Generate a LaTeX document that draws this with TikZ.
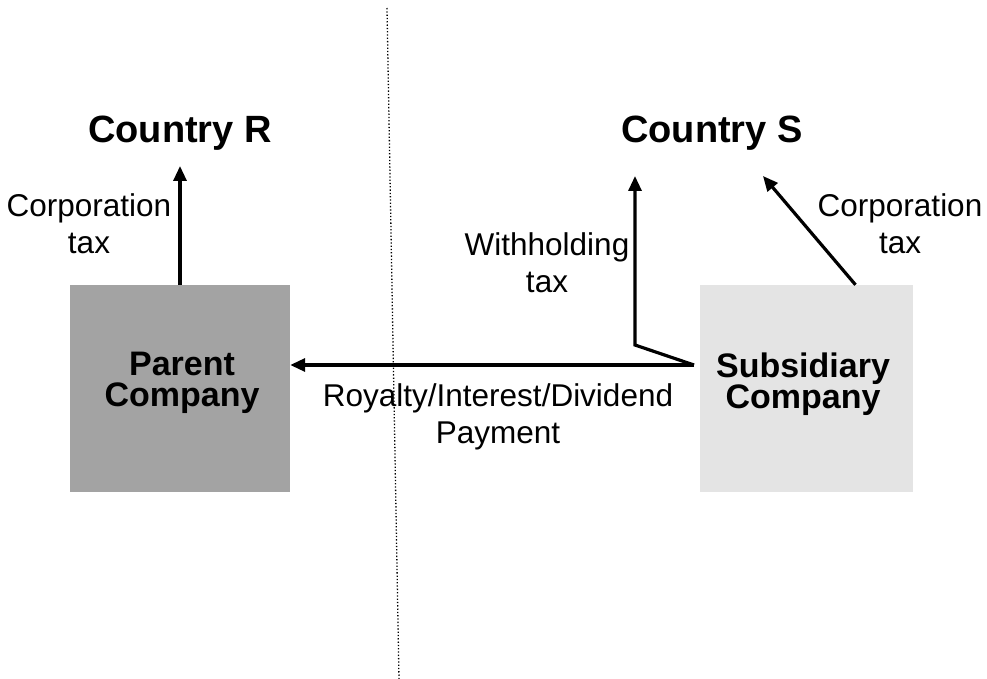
\documentclass[tikz,border=0pt]{standalone}
\usepackage{fontspec}
\setmainfont{Liberation Sans}
\usetikzlibrary{arrows.meta}
\definecolor{parentgray}{RGB}{163,163,163}
\definecolor{subgray}{RGB}{228,228,228}
\begin{document}
\begin{tikzpicture}[x=1pt,y=-1pt,
  title/.style={font=\fontsize{38}{44}\selectfont\bfseries, inner sep=0pt, anchor=base},
  boxlabel/.style={font=\fontsize{34}{31}\selectfont\bfseries, align=center, inner sep=0pt, anchor=north},
  note/.style={font=\fontsize{31.5}{37}\selectfont, align=center, inner sep=0pt, anchor=north},
  company/.style={draw=none, minimum width=#1, minimum height=207pt, inner sep=0pt},
  flow/.style={line width=3.2pt, -{Triangle[length=15pt,width=13pt]}},
  border/.style={dotted, line width=1.3pt}]
  \useasboundingbox (0,0) rectangle (987,679);

  % border between the two countries
  \coordinate (dtop) at (387,8);
  \coordinate (dbot) at (399,679);
  \draw[border] (dtop) -- (dbot);

  % countries
  \node[title] (cr) at (180,143) {Country R};
  \node[title] (cs) at (712,143) {Country S};

  % companies
  \node[company=220pt, fill=parentgray] (par) at (180,388.5) {};
  \node[company=213pt, fill=subgray] (sub) at (806.5,388.5) {};
  \node[boxlabel] (ptxt) at (182,352) {Parent\\Company};
  \node[boxlabel] (stxt) at (803,353) {Subsidiary\\Company};

  % tax and payment labels
  \node[note] (ctaxr) at (89,193) {Corporation\\tax};
  \node[note] (wtax) at (547,232) {Withholding\\tax};
  \node[note] (ctaxs) at (900,193) {Corporation\\tax};
  \node[note] (pay) at (498,383) {Royalty/Interest/Dividend\\Payment};

  % flows
  \coordinate (src) at (694,365);
  \coordinate (bend) at (635,345);
  \coordinate (wtip) at (635,176);
  \coordinate (stip) at (763,176);

  \draw[flow] (par.north) -- ([yshift=-23pt]cr.base);
  \draw[flow] (src) -- (src -| par.east);
  \draw[flow, line join=miter] (src) -- (bend) -- (wtip);
  \draw[flow] ([xshift=49pt]sub.north) -- (stip);
\end{tikzpicture}
\end{document}
